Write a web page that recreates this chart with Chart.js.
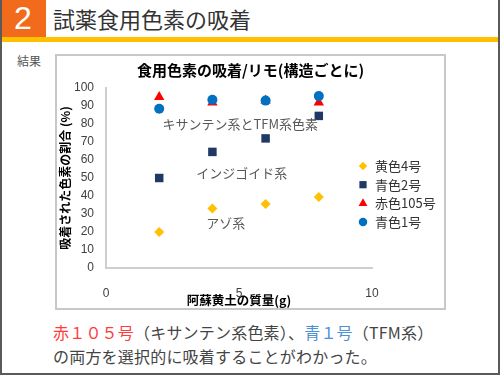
<!DOCTYPE html>
<html lang="ja">
<head>
<meta charset="UTF-8">
<title>試薬食用色素の吸着</title>
<script src="https://cdn.jsdelivr.net/npm/chart.js"></script>
<style>
  body {
    margin: 0;
    width: 500px;
    height: 375px;
    overflow: hidden;
    background: #fff;
    font-family: 'Noto Sans CJK JP', sans-serif;
  }
  .frame {
    position: absolute; left: 0; top: 0;
    width: 500px; height: 375px;
    box-sizing: border-box;
    border: 2px solid #5a5a5a; border-top: none;
  }
  .num {
    position: absolute; left: 0; top: 0;
    width: 46px; height: 37px;
    background: #f26b1d; color: #fff;
    font: 32px/37px 'Liberation Sans', sans-serif;
    text-align: center;
  }
  .head {
    position: absolute; left: 53px; top: 0;
    height: 37px; line-height: 37px;
    font-size: 22px; color: #333;
  }
  .bar {
    position: absolute; left: 0; top: 37px;
    width: 500px; height: 5px; background: #ffc000;
  }
  .kekka {
    position: absolute; left: 17px; top: 52px;
    font-size: 12px; color: #555;
  }
  .box {
    position: absolute; left: 55px; top: 54px;
    width: 391px; height: 256px;
    box-sizing: border-box;
    border: 2px solid #c8c8c8;
  }
  .wrap {
    position: absolute; left: 57px; top: 56px;
    width: 387px; height: 252px;
  }
  .note {
    position: absolute; left: 53px; top: 320px;
    font-size: 16px; line-height: 24px;
    letter-spacing: 0.2px; color: #444;
  }
  .red { color: #ff3c3c; }
  .blue { color: #4f8fd6; }
</style>
</head>
<body>

<div class="num">2</div>
<div class="head">試薬食用色素の吸着</div>
<div class="bar"></div>
<div class="kekka">結果</div>
<div class="box"></div>
<div class="wrap"><canvas id="chart" width="387" height="252"></canvas></div>
<div class="note">
  <span class="red">赤１０５号</span>（キサンテン系色素）、<span class="blue">青１号</span>（TFM系）<br>
  の両方を選択的に吸着することがわかった。
</div>
<div class="frame"></div>

<script>
  // data
  const xMass = [2, 4, 6, 8];
  const yellow4 = [20, 33, 35.5, 39.5];
  const blue2 = [50, 64.5, 72, 84.5];
  const red105 = [95, 92, 93, 92];
  const blue1 = [88.5, 93.5, 93, 95.5];
  const seriesNames = ['黄色4号', '青色2号', '赤色105号', '青色1号'];
  const chartTitle = '食用色素の吸着/リモ(構造ごとに)';

  // group labels written inside the plot
  const groupLabels = ['キサンテン系とTFM系色素', 'インジゴイド系', 'アゾ系'];
  const groupX = [5.05, 5.1, 4.5];
  const groupY = [80, 53, 25];

  const pts = vals => xMass.map((x, i) => ({ x: x, y: vals[i] }));

  Chart.defaults.font.family = "'Noto Sans CJK JP', sans-serif";
  Chart.defaults.color = '#404040';

  // title centred on the whole canvas (built-in one would skip the right padding)
  const canvasTitle = {
    id: 'canvasTitle',
    afterDraw(chart) {
      const ctx = chart.ctx;
      ctx.save();
      ctx.font = "bold 15px 'Noto Sans CJK JP', sans-serif";
      ctx.fillStyle = '#000';
      ctx.textAlign = 'center';
      ctx.textBaseline = 'middle';
      ctx.fillText(chartTitle, chart.width / 2, 14);
      ctx.restore();
    }
  };

  const groupText = {
    id: 'groupText',
    afterDatasetsDraw(chart) {
      const ctx = chart.ctx;
      const sx = chart.scales.x, sy = chart.scales.y;
      ctx.save();
      ctx.font = "13px 'Noto Sans CJK JP', sans-serif";
      ctx.fillStyle = '#595959';
      ctx.textAlign = 'center';
      ctx.textBaseline = 'middle';
      groupLabels.forEach((t, i) => {
        ctx.fillText(t, sx.getPixelForValue(groupX[i]), sy.getPixelForValue(groupY[i]));
      });
      ctx.restore();
    }
  };

  // legend sits half over the plot's right edge, so draw it by hand
  const sideLegend = {
    id: 'sideLegend',
    afterDraw(chart) {
      const ctx = chart.ctx;
      const a = chart.chartArea;
      chart.data.datasets.forEach((ds, i) => {
        const y = a.top + 78 + i * 18.7;
        ctx.save();
        ctx.fillStyle = ds.backgroundColor;
        Chart.helpers.drawPoint(ctx, {
          pointStyle: ds.pointStyle, radius: ds.pointRadius * 0.85, rotation: 0, borderWidth: 0
        }, a.right - 9, y);
        ctx.fillStyle = '#333';
        ctx.font = "13px 'Noto Sans CJK JP', sans-serif";
        ctx.textBaseline = 'middle';
        ctx.fillText(ds.label, a.right + 3, y);
        ctx.restore();
      });
    }
  };

  new Chart(document.getElementById('chart'), {
    type: 'scatter',
    data: {
      datasets: [
        { label: seriesNames[0], data: pts(yellow4), pointStyle: 'rectRot', pointRadius: 5,
          backgroundColor: '#ffc000', borderWidth: 0, order: 4 },
        { label: seriesNames[1], data: pts(blue2), pointStyle: 'rect', pointRadius: 6,
          backgroundColor: '#1f3864', borderWidth: 0, order: 3 },
        { label: seriesNames[2], data: pts(red105), pointStyle: 'triangle', pointRadius: 6,
          backgroundColor: '#ff0000', borderWidth: 0, order: 2 },
        { label: seriesNames[3], data: pts(blue1), pointStyle: 'circle', pointRadius: 5,
          backgroundColor: '#0070c0', borderWidth: 0, order: 1 }
      ]
    },
    options: {
      responsive: false,
      animation: false,
      layout: { padding: { left: 0, right: 72, top: 32, bottom: 0 } },
      plugins: {
        legend: { display: false },
        tooltip: { enabled: false },
        title: { display: false }
      },
      scales: {
        x: {
          type: 'linear', min: 0, max: 10,
          afterFit: s => { s.height = 40; },
          grid: { display: false, drawTicks: false },
          border: { display: true, color: '#cfcfcf', width: 2 },
          ticks: { stepSize: 5, padding: 18, font: { family: "'Liberation Sans', sans-serif", size: 12 } },
          title: {
            display: true, text: '阿蘇黄土の質量(g)', color: '#000',
            font: { size: 12.5, weight: 'bold' }, padding: { top: -7, bottom: 0 }
          }
        },
        y: {
          min: 0, max: 100,
          afterFit: s => { s.width = 49; },
          grid: { display: false, drawTicks: false },
          border: { display: true, color: '#cfcfcf', width: 2 },
          ticks: { stepSize: 10, padding: 12, font: { family: "'Liberation Sans', sans-serif", size: 12 } },
          title: {
            display: true, text: '吸着された色素の割合 (%)', color: '#000',
            font: { size: 12, weight: 'bold' }, padding: { top: 1, bottom: 0 }
          }
        }
      }
    },
    plugins: [canvasTitle, groupText, sideLegend]
  });
</script>
</body>
</html>
